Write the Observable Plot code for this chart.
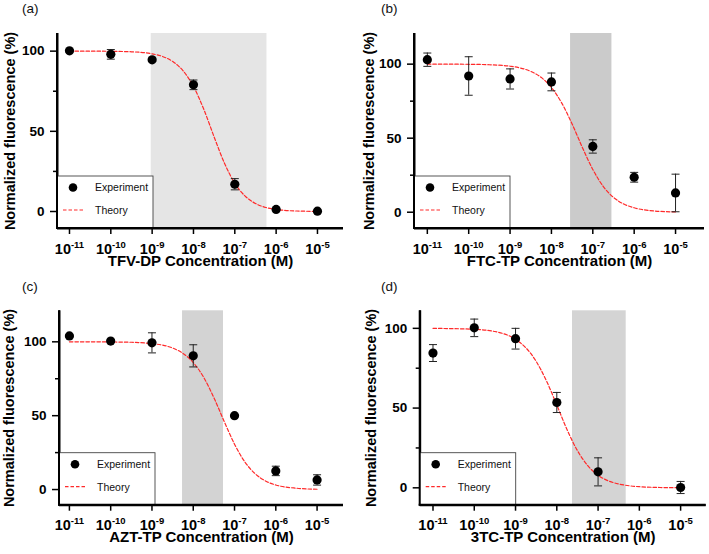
<!DOCTYPE html>
<html>
<head>
<meta charset="utf-8">
<script src="https://cdn.jsdelivr.net/npm/d3@7"></script>
<script src="https://cdn.jsdelivr.net/npm/@observablehq/plot@0.6"></script>
<style>
  body { margin: 0; background: #fff; }
  #fig { position: relative; width: 709px; height: 554px; background: #fff; overflow: hidden; }
  .panel { position: absolute; }
  .tag { position: absolute; font-family: "Liberation Sans", Arial, sans-serif; font-size: 13.5px; color: #111; }
</style>
</head>
<body>
<div id="fig"></div>
<script>
// ---------------- data ----------------
const concentrations = [1e-11, 1e-10, 1e-9, 1e-8, 1e-7, 1e-6, 1e-5];
const concentrationsD = [1e-11, 1e-10, 1e-9, 1e-8, 1e-7, 1e-5];
const xTickValues = [1e-11, 1e-10, 1e-9, 1e-8, 1e-7, 1e-6, 1e-5];

const fluorA = [100.2, 98, 94.6, 79, 17, 1.3, 0.2];
const errA   = [0.6, 3, 1, 3, 3.5, 0.5, 0.5];
const fluorB = [103, 92, 90, 88, 44.4, 23.6, 13];
const errB   = [4.5, 13, 6.8, 6, 4.5, 3.3, 12.7];
const fluorC = [104, 100.5, 99.3, 90.5, 50, 12.6, 6.5];
const errC   = [0.5, 0.5, 6.8, 7.5, 0.5, 3.2, 3.5];
const fluorD = [84.5, 100.3, 93.5, 53.5, 10, 0.2];
const errD   = [5.3, 5.5, 6.5, 6.3, 8.8, 3.8];

// theory curves (exponent of concentration -> %)
const theoryExp = [-11, -10.5, -10, -9.5, -9, -8.75, -8.5, -8.25, -8, -7.75, -7.5, -7.25, -7, -6.75, -6.5, -6.25, -6, -5.5, -5];
const theoryA = [100, 100, 99.9, 99.6, 98.3, 96.7, 93.5, 87.7, 78.0, 63.7, 46.5, 30.1, 17.6, 9.6, 5.0, 2.5, 1.3, 0.3, 0.1];
const theoryB = [100, 100, 99.9, 99.6, 98.6, 97.4, 95.1, 91.1, 84.2, 73.7, 59.6, 43.6, 28.9, 17.5, 10.0, 5.5, 3.0, 0.8, 0.2];
const theoryC = [100, 100, 99.9, 99.7, 98.8, 97.8, 95.8, 92.2, 86.0, 76.1, 62.2, 46.1, 30.7, 18.7, 10.7, 5.8, 3.1, 0.9, 0.2];
const theoryD = [100, 99.8, 99.4, 98.0, 93.1, 87.8, 79.3, 67.0, 51.9, 36.4, 23.3, 13.9, 7.9, 4.35, 2.4, 1.3, 0.7, 0.2, 0.05];

// shaded concentration windows
const bandA = [0.95e-9, 6.0e-7];
const bandB = [2.9e-8, 2.9e-7];
const bandC = [5.5e-9, 5.4e-8];
const bandD = [2.4e-8, 4.8e-7];

const xLabels = ["TFV-DP Concentration (M)", "FTC-TP Concentration (M)", "AZT-TP Concentration (M)", "3TC-TP Concentration (M)"];
const yLabel = "Normalized fluorescence (%)";
const panelTags = ["(a)", "(b)", "(c)", "(d)"];
const yTicks = [0, 50, 100];
const yMinorTicks = [25, 75];
const legendLabels = ["Experiment", "Theory"];

// ---------------- drawing ----------------
const FONT = '"Liberation Sans", Arial, sans-serif';
const powFormat = d => "10" + Math.round(Math.log10(d));
const capSymbol = {draw(context, size) { const r = Math.sqrt(size / Math.PI); context.moveTo(-r, 0); context.lineTo(r, 0); }};

const layouts = [
  {left: 0,   top: 0,   width: 354, height: 277, mL: 57,   mR: 11,  mT: 33,   mB: 49,   xd: [-11.29, -4.37], yd: [-10.6, 111],   tagX: 22,  tagY: 1,   ylDx: -47},
  {left: 354, top: 0,   width: 355, height: 277, mL: 60,   mR: 5,   mT: 33,   mB: 49,   xd: [-11.31, -4.30], yd: [-11, 120.7],   tagX: 381, tagY: 1,   ylDx: -45},
  {left: 0,   top: 277, width: 354, height: 277, mL: 59,   mR: 11,  mT: 33.3, mB: 49.3, xd: [-11.24, -4.36], yd: [-10.6, 121],   tagX: 22,  tagY: 279, ylDx: -50},
  {left: 354, top: 277, width: 355, height: 277, mL: 65.7, mR: 3.3, mT: 33.3, mB: 49.3, xd: [-11.31, -4.38], yd: [-10.9, 111],   tagX: 381, tagY: 279, ylDx: -49}
];
const series = [
  {conc: concentrations,  v: fluorA, e: errA, theory: theoryA, band: bandA, bandColor: "#e5e5e5"},
  {conc: concentrations,  v: fluorB, e: errB, theory: theoryB, band: bandB, bandColor: "#cbcbcb"},
  {conc: concentrations,  v: fluorC, e: errC, theory: theoryC, band: bandC, bandColor: "#d3d3d3"},
  {conc: concentrationsD, v: fluorD, e: errD, theory: theoryD, band: bandD, bandColor: "#d4d4d4"}
];

const fig = document.getElementById("fig");

series.forEach((s, i) => {
  const L = layouts[i];
  const pts = s.conc.map((c, k) => ({c, v: s.v[k], e: s.e[k]}));
  const curve = theoryExp.map((ex, k) => ({c: Math.pow(10, ex), y: s.theory[k]}));
  const xMin = Math.pow(10, L.xd[0]);
  const yMin = L.yd[0];

  const svg = Plot.plot({
    width: L.width, height: L.height,
    marginLeft: L.mL, marginRight: L.mR, marginTop: L.mT, marginBottom: L.mB,
    style: {fontFamily: FONT, fontSize: "13px", fontWeight: "bold", color: "#000", background: "transparent", overflow: "visible"},
    x: {type: "log", domain: [xMin, Math.pow(10, L.xd[1])]},
    y: {domain: L.yd},
    marks: [
      Plot.rect([{x1: s.band[0], x2: s.band[1]}], {x1: "x1", x2: "x2", fill: s.bandColor}),
      Plot.line(curve, {x: "c", y: "y", stroke: "#ff2a2a", strokeWidth: 1.2, strokeDasharray: "3.5,2", curve: "monotone-x"}),
      Plot.ruleX(pts, {x: "c", y1: d => d.v - d.e, y2: d => d.v + d.e, stroke: "#222", strokeWidth: 1}),
      Plot.dot(pts, {x: "c", y: d => d.v - d.e, symbol: capSymbol, r: 4, stroke: "#222", strokeWidth: 1, fill: "none"}),
      Plot.dot(pts, {x: "c", y: d => d.v + d.e, symbol: capSymbol, r: 4, stroke: "#222", strokeWidth: 1, fill: "none"}),
      Plot.dot(pts, {x: "c", y: "v", r: 4.6, fill: "#000", stroke: "none"}),
      Plot.axisX({ticks: xTickValues, tickFormat: powFormat, tickSize: 6, tickPadding: 9, strokeWidth: 1.5, label: null, fontSize: 14.5, fontWeight: "bold"}),
      Plot.axisY({ticks: yTicks, tickSize: 7, tickPadding: 6, strokeWidth: 1.5, label: null, fontSize: 13.5, fontWeight: "bold"}),
      Plot.axisY({ticks: yMinorTicks, tickSize: 4, tickFormat: () => "", strokeWidth: 1.5, label: null}),
      Plot.ruleX([xMin], {stroke: "#000", strokeWidth: 2}),
      Plot.ruleY([yMin], {stroke: "#000", strokeWidth: 2}),
      Plot.text([xLabels[i]], {text: d => d, frameAnchor: "bottom", dy: 37, fontSize: 15, fontWeight: "bold", textAnchor: "middle"}),
      Plot.text([yLabel], {text: d => d, frameAnchor: "left", dx: L.ylDx, rotate: -90, fontSize: 14.5, fontWeight: "bold", textAnchor: "middle"})
    ]
  });

  // superscript exponents on the x tick labels
  d3.select(svg).selectAll('g[aria-label="x-axis tick label"] text').each(function () {
    const t = this.textContent;
    const exp = t.slice(2);
    const sel = d3.select(this);
    sel.text("10");
    sel.append("tspan").attr("dy", "-0.65em").attr("font-size", "9.5px").text(exp);
  });

  // legend box (bottom-left corner of the frame)
  const g = d3.select(svg).append("g").attr("font-family", FONT).attr("font-size", 10.5).attr("font-weight", "normal").attr("text-anchor", "start");
  const bx = L.mL, bw = 96, bh = 52, by = L.height - L.mB - bh;
  g.append("rect").attr("x", bx).attr("y", by).attr("width", bw).attr("height", bh)
    .attr("fill", "#fff").attr("stroke", "#444").attr("stroke-width", 0.9);
  g.append("circle").attr("cx", bx + 16).attr("cy", by + 11.5).attr("r", 4.3).attr("fill", "#000");
  g.append("text").attr("x", bx + 38).attr("y", by + 15).attr("fill", "#111").text(legendLabels[0]);
  g.append("line").attr("x1", bx + 6).attr("x2", bx + 26).attr("y1", by + 34).attr("y2", by + 34)
    .attr("stroke", "#ff2a2a").attr("stroke-width", 1.2).attr("stroke-dasharray", "3.5,2");
  g.append("text").attr("x", bx + 38).attr("y", by + 38).attr("fill", "#111").text(legendLabels[1]);
  // redraw axis lines on top of the legend
  d3.select(svg).append("line").attr("x1", L.mL).attr("x2", L.mL).attr("y1", L.mT).attr("y2", L.height - L.mB + 1).attr("stroke", "#000").attr("stroke-width", 2);
  d3.select(svg).append("line").attr("x1", L.mL - 1).attr("x2", L.width - L.mR).attr("y1", L.height - L.mB).attr("y2", L.height - L.mB).attr("stroke", "#000").attr("stroke-width", 2);

  const wrap = document.createElement("div");
  wrap.className = "panel";
  wrap.style.left = L.left + "px";
  wrap.style.top = L.top + "px";
  wrap.appendChild(svg);
  fig.appendChild(wrap);

  const tag = document.createElement("div");
  tag.className = "tag";
  tag.style.left = L.tagX + "px";
  tag.style.top = L.tagY + "px";
  tag.textContent = panelTags[i];
  fig.appendChild(tag);
});
</script>
</body>
</html>
